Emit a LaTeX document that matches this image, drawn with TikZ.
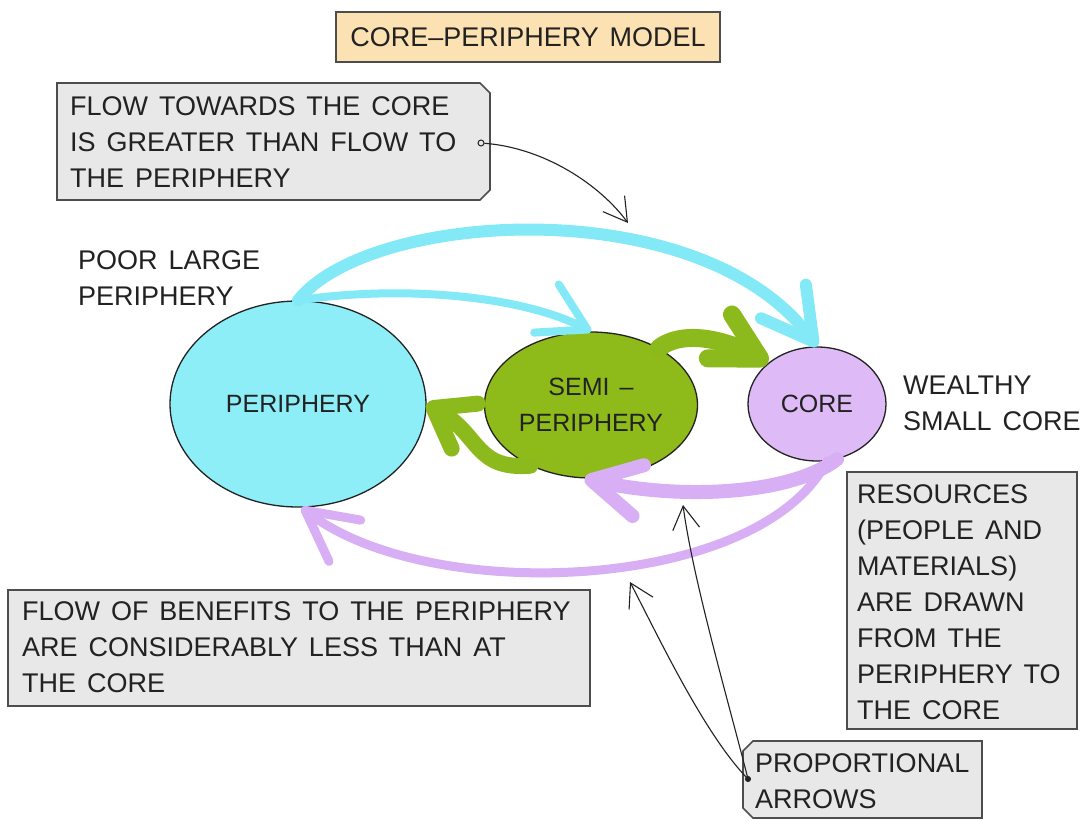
\documentclass[tikz,border=0pt]{standalone}
\usepackage{fontspec}
\setmainfont{Liberation Sans}[WordSpace=1.45]
\usetikzlibrary{arrows.meta,shapes.geometric}
\definecolor{ink}{HTML}{222222}
\definecolor{boxedge}{HTML}{4D4D4D}
\definecolor{boxgray}{HTML}{E8E8E8}
\definecolor{titlefill}{HTML}{FCE2B2}
\definecolor{cyanfill}{HTML}{8EEEF8}
\definecolor{cyanarrow}{HTML}{84E9F6}
\definecolor{greenfill}{HTML}{8EBB1A}
\definecolor{greenarrow}{HTML}{8CBA1C}
\definecolor{lavfill}{HTML}{DEBAF6}
\definecolor{lavarrow}{HTML}{D8AEF4}
\begin{document}
\begin{tikzpicture}[x=1pt,y=-1pt,
  lbl/.style={font=\fontsize{27}{36}\selectfont, text=ink, inner sep=0pt, align=left, anchor=west},
  blob/.style={ellipse, draw=ink, line width=1.3pt, inner sep=0pt, text=ink,
               font=\fontsize{25}{36}\selectfont, align=center},
  notebg/.style={draw=boxedge, line width=1.6pt, fill=boxgray},
  flowline/.style={line cap=round, line join=round},
  pointer/.style={draw=ink, line width=1.1pt,
     -{Straight Barb[length=23pt,width=27pt,line width=1.1pt]}},
  dotnode/.style={circle, draw=ink, line width=1pt, inner sep=0pt, minimum size=6pt}
]
\fill[white] (0,0) rectangle (1081,821);
\useasboundingbox (0,0) rectangle (1081,821);

% ---- title
\node[draw=boxedge, fill=titlefill, line width=1.6pt, minimum width=384pt,
      minimum height=50pt, inner sep=0pt, text=ink,
      font=\fontsize{27}{36}\selectfont] (title) at (528,37) {CORE–PERIPHERY MODEL};

% ---- note boxes
\path[notebg] (57,83) -- (480,83) -- (490,93) -- (490,190) -- (480,200) -- (57,200) -- cycle;
\node[lbl] (note1) at (70,142) {FLOW TOWARDS THE CORE\\IS GREATER THAN FLOW TO\\THE PERIPHERY};

\path[notebg] (8,590) rectangle (590,706);
\node[lbl] (note2) at (22,647.5) {FLOW OF BENEFITS TO THE PERIPHERY\\ARE CONSIDERABLY LESS THAN AT\\THE CORE};

\path[notebg] (847,472) rectangle (1077,729);
\node[lbl] (note3) at (857,602) {RESOURCES\\(PEOPLE AND\\MATERIALS)\\ARE DRAWN\\FROM THE\\PERIPHERY TO\\THE CORE};

\path[notebg] (753,741) -- (982,741) -- (982,818) -- (753,818) -- (743,808) -- (743,751) -- cycle;
\node[lbl] (note4) at (755,781) {PROPORTIONAL\\ARROWS};

% ---- side labels
\node[lbl] (poor) at (78,278.5) {POOR LARGE\\PERIPHERY};
\node[lbl] (wealthy) at (903,403.5) {WEALTHY\\SMALL CORE};

% ---- regions
\node[blob, fill=cyanfill, minimum width=256pt, minimum height=206pt] (peri) at (298,404) {PERIPHERY};
\node[blob, fill=greenfill, minimum width=213pt, minimum height=146pt] (semi) at (591,405) {SEMI –\\PERIPHERY};
\node[blob, fill=lavfill, minimum width=138pt, minimum height=114pt] (core) at (817,404) {CORE};

% ---- flows towards the core (cyan)
\draw[flowline, draw=cyanarrow, line width=12pt,
      -{Straight Barb[length=50pt,width=56pt,line width=12pt,round]}]
  (peri.north) .. controls (370,210) and (700,190) .. (core.north);
\draw[flowline, draw=cyanarrow, line width=8pt,
      -{Straight Barb[length=46pt,width=54pt,line width=8pt,round]}]
  (peri.north) .. controls (400,285) and (520,295) .. (semi.north);

% ---- green flows
\draw[flowline, draw=greenarrow, line width=18pt,
      -{Straight Barb[length=46pt,width=50pt,line width=18pt,round]}]
  (semi.40) .. controls (685,328) and (730,342) .. (core.140);
\draw[flowline, draw=greenarrow, line width=16pt,
      -{Straight Barb[length=36pt,width=52pt,line width=16pt,round]}]
  (semi.225) .. controls (475,470) and (480,435) .. (peri.east);

% ---- lavender flows
\draw[flowline, draw=lavarrow, line width=14pt,
      -{Straight Barb[length=48pt,width=52pt,line width=14pt,round]}]
  (core.290) .. controls (790,495) and (680,500) .. (semi.265);
\draw[flowline, draw=lavarrow, line width=9pt,
      -{Straight Barb[length=50pt,width=52pt,line width=9pt,round]}]
  (core.280) .. controls (760,592) and (430,606) .. (peri.272);

% ---- annotation pointers
\node[dotnode, fill=boxgray] (d1) at (481,143) {};
\coordinate (p1) at (628,223);
\draw[pointer] (d1) .. controls (545,148) and (600,185) .. (p1);

\node[dotnode, fill=ink, minimum size=5pt] (d2) at (748,779) {};
\coordinate (pA) at (683,505);
\coordinate (pB) at (630,582);
\draw[pointer] (d2.center) .. controls (728,700) and (693,580) .. (pA);
\draw[pointer] (d2.center) .. controls (705,735) and (660,640) .. (pB);
\end{tikzpicture}
\end{document}
